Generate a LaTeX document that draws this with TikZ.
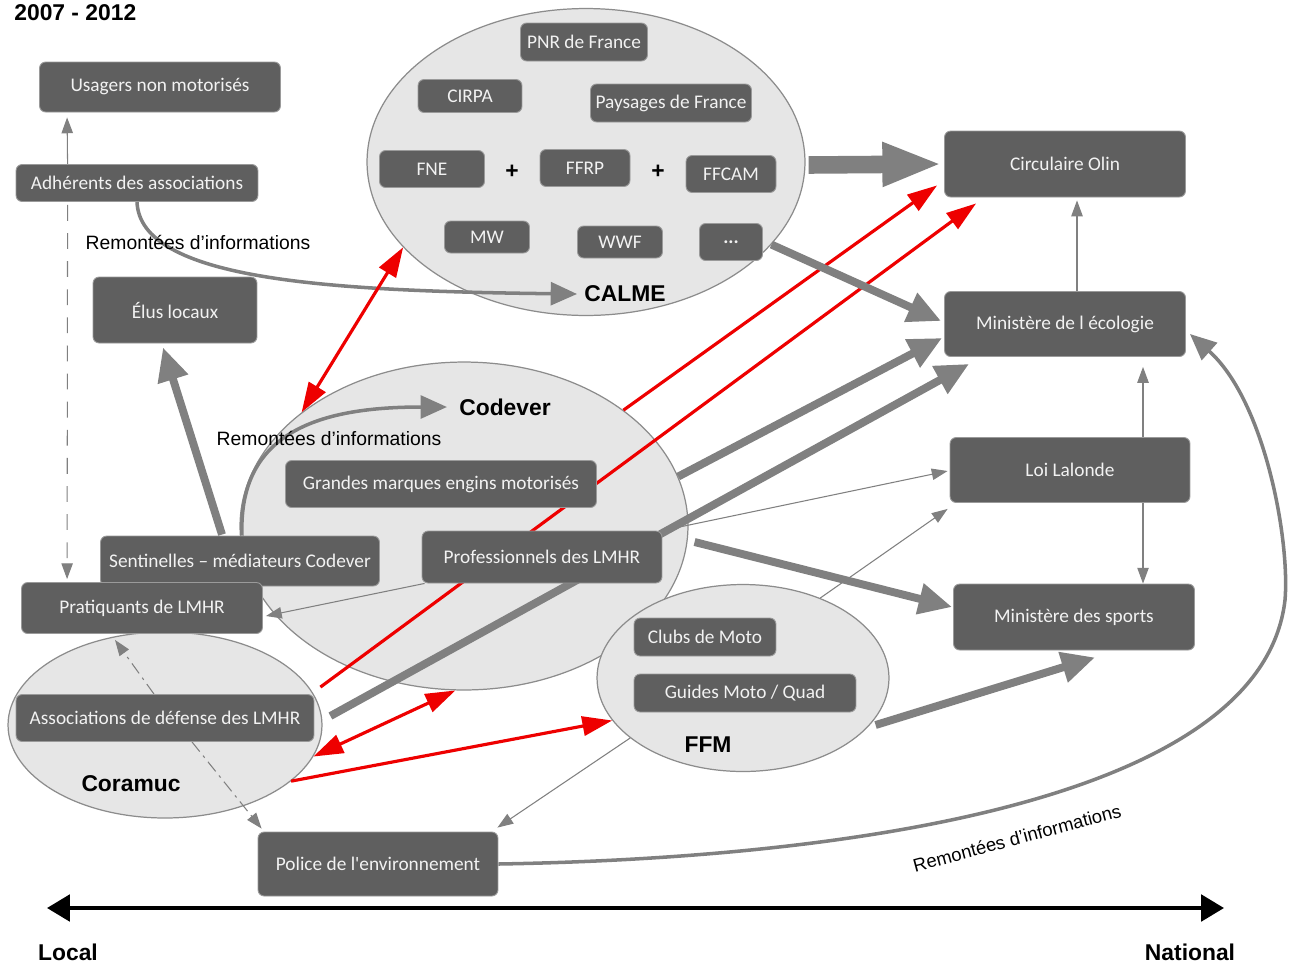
\documentclass[tikz,border=0pt]{standalone}
\usepackage{fontspec}
\setmainfont{Liberation Sans}
\newfontfamily\boxfont{Carlito}
\usetikzlibrary{arrows.meta,shapes.geometric,calc}
\definecolor{boxgray}{HTML}{5F5F5F}
\definecolor{boxline}{HTML}{9A9A9A}
\definecolor{boxtext}{HTML}{F2F2F2}
\definecolor{ellfill}{HTML}{E6E6E6}
\definecolor{ellline}{HTML}{8C8C8C}
\definecolor{arrgray}{HTML}{808080}
\definecolor{redarr}{HTML}{EE0000}
\pgfdeclarelayer{bg}
\pgfdeclarelayer{arr}
\pgfsetlayers{bg,arr,main}
\tikzset{
  box/.style={rectangle, rounded corners=3.5pt, fill=boxgray, draw=boxline, line width=0.5pt,
    text=boxtext, font=\boxfont\fontsize{11}{13}\selectfont, inner sep=0pt, align=center},
  grp/.style={ellipse, fill=ellfill, draw=ellline, line width=0.7pt, inner sep=0pt},
  grplbl/.style={font=\bfseries\fontsize{13}{15}\selectfont, inner sep=0pt},
  note/.style={font=\fontsize{11}{13}\selectfont, inner sep=0pt},
  tarrow/.style={draw=arrgray, line width=0.6pt, -{Triangle[length=9pt,width=6.5pt]}},
  tdouble/.style={draw=arrgray, line width=0.6pt, {Triangle[length=9pt,width=6.5pt]}-{Triangle[length=9pt,width=6.5pt]}},
  karrow/.style={draw=arrgray, line width=4.5pt, -{Triangle[length=19pt,width=17pt]}},
  bigarrow/.style={draw=arrgray, line width=10pt, -{Triangle[length=34pt,width=23pt]}},
  iarrow/.style={draw=arrgray, line width=2pt, -{Triangle[length=15pt,width=13pt]}},
  rarrow/.style={draw=redarr, line width=1.8pt, -{Triangle[length=17pt,width=11pt]}},
  rdouble/.style={draw=redarr, line width=1.8pt, {Triangle[length=17pt,width=11pt]}-{Triangle[length=17pt,width=11pt]}},
  dashdot/.style={dash pattern=on 7pt off 3pt on 1.5pt off 3pt},
  axis/.style={draw=black, line width=2.3pt, {Triangle[length=13pt,width=15pt]}-{Triangle[length=13pt,width=15pt]}},
}
\begin{document}
\begin{tikzpicture}[x=0.02cm, y=-0.02cm]
\useasboundingbox (0,0) rectangle (1294,964);

% groups
\begin{pgfonlayer}{bg}
\fill[white] (0,0) rectangle (1294,964);
\node[grp, minimum width=8.76cm, minimum height=6.14cm] (calme) at (586,162) {};
\node[grp, minimum width=8.96cm, minimum height=6.56cm] (codever) at (464,526) {};
\node[grp, minimum width=6.28cm, minimum height=3.72cm] (coramuc) at (165,725) {};
\node[grp, minimum width=5.84cm, minimum height=3.74cm] (ffm) at (743,678) {};
\end{pgfonlayer}

% boxes
\node[box, minimum width=4.82cm, minimum height=1cm] (usagers) at (160,87) {Usagers non motorisés};
\node[box, minimum width=4.84cm, minimum height=0.74cm] (adherents) at (137,183) {Adhérents des associations};
\node[box, minimum width=3.28cm, minimum height=1.32cm] (elus) at (175,310) {Élus locaux};
\node[box, minimum width=5.58cm, minimum height=1cm] (sentinelles) at (240,561) {Sentinelles – médiateurs Codever};
\node[box, minimum width=4.82cm, minimum height=1.02cm] (pratiquants) at (142,608) {Pratiquants de LMHR};
\node[box, minimum width=5.96cm, minimum height=0.94cm] (assoc) at (165,718) {Associations de défense des LMHR};
\node[box, minimum width=4.8cm, minimum height=1.28cm] (police) at (378,864) {Police de l'environnement};
\node[box, minimum width=6.22cm, minimum height=0.94cm] (grandes) at (441,484) {Grandes marques engins motorisés};
\node[box, minimum width=4.8cm, minimum height=1.04cm] (pro) at (542,557) {Professionnels des LMHR};
\node[box, minimum width=2.84cm, minimum height=0.76cm] (clubs) at (705,637) {Clubs de Moto};
\node[box, minimum width=4.44cm, minimum height=0.76cm] (guides) at (745,693) {Guides Moto / Quad};
\node[box, minimum width=2.54cm, minimum height=0.76cm] (pnr) at (584,42) {PNR de France};
\node[box, minimum width=2.08cm, minimum height=0.66cm] (cirpa) at (470,96) {CIRPA};
\node[box, minimum width=3.22cm, minimum height=0.76cm] (paysages) at (671,103) {Paysages de France};
\node[box, minimum width=2.1cm, minimum height=0.74cm] (fne) at (432,169) {FNE};
\node[box, minimum width=1.8cm, minimum height=0.74cm] (ffrp) at (585,168) {FFRP};
\node[box, minimum width=1.8cm, minimum height=0.74cm] (ffcam) at (731,174) {FFCAM};
\node[box, minimum width=1.7cm, minimum height=0.64cm] (mw) at (487,237) {MW};
\node[box, minimum width=1.7cm, minimum height=0.64cm] (wwf) at (620,242) {WWF};
\node[box, minimum width=1.26cm, minimum height=0.74cm, font=\boxfont\bfseries\fontsize{11}{13}\selectfont] (dots) at (731,242) {...};
\node[box, minimum width=4.82cm, minimum height=1.32cm] (olin) at (1065,164) {Circulaire Olin};
\node[box, minimum width=4.82cm, minimum height=1.3cm] (ecologie) at (1065,324) {Ministère de l écologie};
\node[box, minimum width=4.8cm, minimum height=1.3cm] (lalonde) at (1070,470) {Loi Lalonde};
\node[box, minimum width=4.82cm, minimum height=1.32cm] (sports) at (1074,617) {Ministère des sports};

% labels
\node[grplbl, anchor=west] (title) at (14,13) {2007 - 2012};
\node[grplbl] (calmelbl) at (625,294) {CALME};
\node[grplbl] (codeverlbl) at (505,407) {Codever};
\node[grplbl] (coramuclbl) at (131,784) {Coramuc};
\node[grplbl] (ffmlbl) at (708,745) {FFM};
\node[grplbl] (plus1) at (512,172) {+};
\node[grplbl] (plus2) at (658,172) {+};
\node[note] (rem1) at (198,242) {Remontées d'informations};
\node[note] (rem2) at (329,438) {Remontées d'informations};
\node[note, rotate=15, font=\fontsize{10.5}{12}\selectfont] (rem3) at (1017,838) {Remontées d'informations};
\node[grplbl] (local) at (68,952) {Local};
\node[grplbl] (national) at (1190,952) {National};
\coordinate (axl) at (47,908);
\coordinate (axr) at (1224,908);
\coordinate (bend) at (1285,600);

% connectors
\begin{pgfonlayer}{arr}
\draw[tarrow] ($(adherents.north west)+(52,0)$) -- ($(usagers.south west)+(28,5)$);
\draw[tarrow, dash pattern=on 9pt off 7pt] ($(adherents.south west)+(52,3)$) -- ($(pratiquants.north west)+(46,-3)$);
\draw[iarrow] (adherents.south) .. controls +(3,78) and +(-250,-3) .. ($(calmelbl.west)+(-7,0)$);
\draw[karrow] ($(sentinelles.north)+(-18,-1)$) -- ($(elus.south)+(-12,4)$);
\draw[iarrow] ($(sentinelles.north)+(2,0)$) .. controls +(-4,-105) and +(-125,0) .. ($(codeverlbl.west)+(-12,0)$);
% red
\draw[rdouble] (calme.205) -- (codever.145);
\draw[rarrow] (codever.36) -- ($(olin.south west)+(-7,-12)$);
\draw[rarrow] ($(assoc.north east)+(6,-7)$) -- ($(olin.south west)+(32,6)$);
\draw[rdouble] (coramuc.-12) -- (codever.-93);
\draw[rarrow] (coramuc.-24) -- (ffm.198);
% thick gray
\draw[bigarrow] ($(calme.east)+(3,3)$) -- ($(olin.west)+(-2,0)$);
\draw[karrow] (calme.-24) -- ($(ecologie.west)+(-3,-3)$);
\draw[karrow] (codever.13) -- ($(ecologie.west)+(-2,14)$);
\draw[karrow] ($(assoc.east)+(16,-2)$) -- ($(ecologie.south west)+(25,7)$);
\draw[karrow] ($(codever.east)+(6,16)$) -- ($(sports.west)+(-1,-10)$);
\draw[karrow] ($(ffm.east)+(-14,47)$) -- ($(sports.south)+(21,7)$);
% thin gray
\draw[tarrow] ($(ecologie.north)+(12,0)$) -- ($(olin.south)+(12,3)$);
\draw[tdouble] ($(ecologie.south)+(78,10)$) -- ($(sports.north)+(69,0)$);
\draw[tarrow] (pro.north east) -- ($(lalonde.west)+(-2,1)$);
\draw[tarrow] (ffm.46) -- ($(lalonde.south west)+(-2,6)$);
\draw[tarrow] ($(pro.south west)+(3,0)$) -- ($(pratiquants.east)+(3,8)$);
\draw[tarrow] (ffm.208) -- ($(police.north east)+(-1,-4)$);
\draw[tarrow, dashdot] ($(assoc.north)+(-11,0)$) -- ($(pratiquants.south)+(-27,6)$);
\draw[tarrow, dashdot] ($(assoc.south)+(27,0)$) -- ($(police.north west)+(4,-3)$);
% long feedback curve
\draw[iarrow] (police.east) .. controls +(352,-6) and +(-23,200) .. (bend)
  .. controls +(5,-60) and +(75,67) .. ($(ecologie.east)+(4,10)$);
\end{pgfonlayer}

\draw[axis] (axl) -- (axr);
\end{tikzpicture}
\end{document}
